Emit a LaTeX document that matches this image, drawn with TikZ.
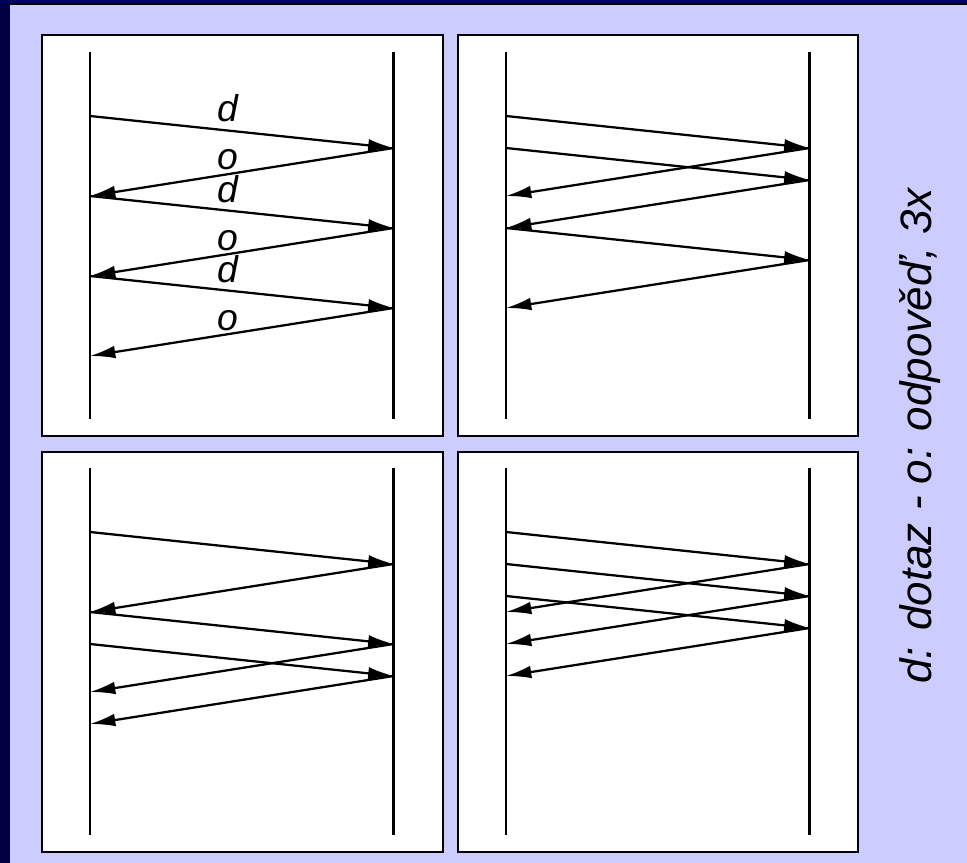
\documentclass[tikz,border=0pt]{standalone}
\usepackage{fontspec}
\setmainfont{Liberation Sans}
\usetikzlibrary{arrows.meta}
\definecolor{lav}{HTML}{CCCCFF}
\definecolor{navyband}{HTML}{000040}
\definecolor{navytop}{HTML}{000060}
\tikzset{
  panelbox/.style={draw=black, fill=white, line width=1.7pt},
  lifeline/.style={draw=black, line width=1.6pt},
  msg/.style={draw=black, line width=1.7pt, -{Latex[length=19pt,width=9.5pt]}},
  msglabel/.style={font=\fontsize{28}{30}\selectfont\itshape, inner sep=0pt, anchor=base},
  sidetext/.style={font=\fontsize{33}{36}\selectfont\itshape, inner sep=0pt, anchor=base west, rotate=90}
}
\begin{document}
\begin{tikzpicture}[x=0.75pt, y=-0.75pt]
\useasboundingbox (0,0) rectangle (967,863);
% background
\fill[lav] (0,0) rectangle (967,863);
\fill[navyband] (0,0) rectangle (10,863);
\fill[navytop] (0,0) rectangle (967,3.3);
\fill[black] (10,3.3) rectangle (967,4.8);
% panels
\draw[panelbox] (42,35) rectangle (443,436);
\draw[panelbox] (458,35) rectangle (858,436);
\draw[panelbox] (42,452) rectangle (443,852);
\draw[panelbox] (458,452) rectangle (858,852);
% lifelines and event coordinates
\foreach \p/\lx/\rx/\ya/\yb/\yz in {tl/90/393.5/52/419/116, tr/506/809.5/52/419/116, bl/90/393.5/468/835/532, br/506/809.5/468/835/532}{
  \coordinate (\p-Ltop) at (\lx,\ya);
  \coordinate (\p-Lbot) at (\lx,\yb);
  \coordinate (\p-Rtop) at (\rx,\ya);
  \coordinate (\p-Rbot) at (\rx,\yb);
  \draw[lifeline] (\p-Ltop) -- (\p-Lbot);
  \draw[lifeline] (\p-Rtop) -- (\p-Rbot);
  \foreach \k in {0,...,15}{
    \coordinate (\p-L\k) at (\lx,\yz+16*\k);
    \coordinate (\p-R\k) at (\rx,\yz+16*\k);
  }
}
% top-left: sequential
\draw[msg] (tl-L0) -- (tl-R2);
\draw[msg] (tl-R2) -- (tl-L5);
\draw[msg] (tl-L5) -- (tl-R7);
\draw[msg] (tl-R7) -- (tl-L10);
\draw[msg] (tl-L10) -- (tl-R12);
\draw[msg] (tl-R12) -- (tl-L15);
\node[msglabel] (ld1) at (228,122) {d};
\node[msglabel] (lo1) at (228,170) {o};
\node[msglabel] (ld2) at (228,202) {d};
\node[msglabel] (lo2) at (228,250) {o};
\node[msglabel] (ld3) at (228,282) {d};
\node[msglabel] (lo3) at (228,330) {o};
% top-right
\draw[msg] (tr-L0) -- (tr-R2);
\draw[msg] (tr-L2) -- (tr-R4);
\draw[msg] (tr-R2) -- (tr-L5);
\draw[msg] (tr-R4) -- (tr-L7);
\draw[msg] (tr-L7) -- (tr-R9);
\draw[msg] (tr-R9) -- (tr-L12);
% bottom-left
\draw[msg] (bl-L0) -- (bl-R2);
\draw[msg] (bl-R2) -- (bl-L5);
\draw[msg] (bl-L5) -- (bl-R7);
\draw[msg] (bl-L7) -- (bl-R9);
\draw[msg] (bl-R7) -- (bl-L10);
\draw[msg] (bl-R9) -- (bl-L12);
% bottom-right
\draw[msg] (br-L0) -- (br-R2);
\draw[msg] (br-L2) -- (br-R4);
\draw[msg] (br-L4) -- (br-R6);
\draw[msg] (br-R2) -- (br-L5);
\draw[msg] (br-R4) -- (br-L7);
\draw[msg] (br-R6) -- (br-L9);
% side text
\node[sidetext] (side) at (931,684) {d: dotaz - o: odpověď, 3x};
\end{tikzpicture}
\end{document}
